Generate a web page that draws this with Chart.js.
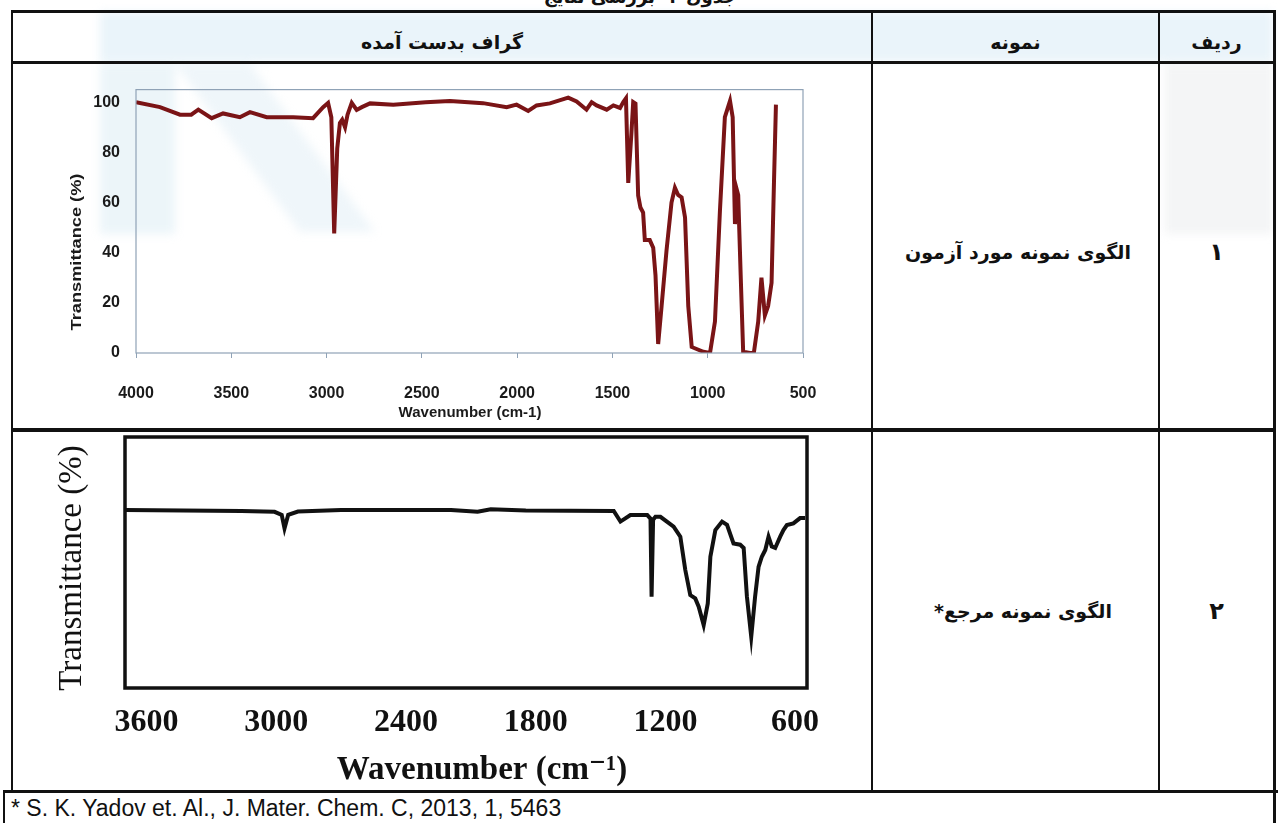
<!DOCTYPE html>
<html lang="fa">
<head>
<meta charset="utf-8">
<script src="https://cdn.jsdelivr.net/npm/chart.js@4.4.1/dist/chart.umd.min.js"></script>
<style>
  body { margin: 0; width: 1278px; height: 823px; overflow: hidden; background: #fff; position: relative; font-family: "DejaVu Sans", sans-serif; }
  .ln { position: absolute; background: #111; }
  .txt { position: absolute; text-align: center; font-weight: bold; color: #111; direction: rtl; white-space: nowrap; }
  canvas { position: absolute; }
  #wm { position: absolute; left: 0; top: 0; filter: blur(5px); }
  #foot { position: absolute; left: 11px; top: 793px; font: 23px "Liberation Sans", Arial, sans-serif; color: #111; line-height: 30px; }
</style>
</head>
<body>

<!-- واترمارک کم‌رنگ پس‌زمینه -->
<svg id="wm" width="1278" height="823">
  <rect x="100" y="12" width="1173" height="50" fill="rgba(190,222,240,0.32)"/>
  <rect x="100" y="64" width="75" height="170" fill="rgba(175,212,232,0.24)"/>
  <polygon points="175,64 250,64 375,232 300,232" fill="rgba(175,212,232,0.2)"/>
  <rect x="1165" y="64" width="108" height="170" fill="rgba(200,205,212,0.2)"/>
</svg>

<!-- جدول -->
<div class="txt" style="left:440px;width:400px;top:-15px;font-size:18px;line-height:24px;">جدول ۲- بررسی نتایج</div>
<div class="ln" style="left:11px;top:10px;width:1265px;height:3px;"></div>
<div class="ln" style="left:11px;top:61px;width:1265px;height:3px;"></div>
<div class="ln" style="left:11px;top:428px;width:1265px;height:4px;"></div>
<div class="ln" style="left:3px;top:790px;width:1275px;height:3px;"></div>
<div class="ln" style="left:11px;top:10px;width:2px;height:783px;"></div>
<div class="ln" style="left:3px;top:790px;width:2px;height:33px;"></div>
<div class="ln" style="left:871px;top:10px;width:2px;height:783px;"></div>
<div class="ln" style="left:1158px;top:10px;width:2px;height:783px;"></div>
<div class="ln" style="left:1273px;top:10px;width:3px;height:813px;"></div>

<div class="txt" style="left:13px;width:858px;top:29px;font-size:19px;line-height:26px;">گراف بدست آمده</div>
<div class="txt" style="left:873px;width:285px;top:29px;font-size:19px;line-height:26px;">نمونه</div>
<div class="txt" style="left:1160px;width:113px;top:29px;font-size:19px;line-height:26px;">ردیف</div>

<div class="txt" style="left:873px;width:290px;top:238px;font-size:19px;line-height:28px;">الگوی نمونه مورد آزمون</div>
<div class="txt" style="left:1160px;width:113px;top:236px;font-size:24px;line-height:32px;">۱</div>
<div class="txt" style="left:873px;width:300px;top:597px;font-size:19px;line-height:28px;">الگوی نمونه مرجع*</div>
<div class="txt" style="left:1160px;width:113px;top:595px;font-size:24px;line-height:32px;">۲</div>

<canvas id="ir-test" width="858" height="364" style="left:13px;top:64px;"></canvas>
<canvas id="ir-ref" width="858" height="359" style="left:13px;top:431px;"></canvas>

<div id="foot">* S. K. Yadov et. Al., J. Mater. Chem. C, 2013, 1, 5463</div>

<script>
// طیف نمونه مورد آزمون (عدد موج، عبور %)
const wnTest = [4000, 3874, 3769, 3710, 3673, 3603, 3543, 3455, 3402, 3314,
  3175, 3071, 3018, 2992, 2975, 2960, 2944, 2930, 2918, 2903,
  2890, 2868, 2842, 2815, 2772, 2650, 2480, 2353, 2179, 2055,
  2003, 1942, 1898, 1828, 1732, 1688, 1636, 1609, 1583, 1530,
  1495, 1460, 1443, 1429, 1417, 1400, 1391, 1379, 1365, 1353,
  1339, 1330, 1304, 1286, 1274, 1260, 1242, 1216, 1190, 1172,
  1155, 1137, 1119, 1102, 1084, 1023, 988, 962, 936, 910,
  883, 869, 857, 848, 840, 827, 814, 779, 758, 735,
  718, 700, 683, 665, 652, 642];
const tTest = [100, 98, 95, 95, 97, 93.6, 95.5, 94, 96, 94,
  94, 93.6, 98, 99.7, 94, 47.7, 81.6, 91.7, 93, 90,
  95, 99.7, 96.9, 98, 99.5, 99, 100, 100.5, 99.6, 98,
  99, 96.5, 98.7, 99.5, 101.8, 100.3, 97, 100, 98.7, 97,
  98.7, 97.7, 100, 101.5, 67.8, 88, 100, 99.4, 62.8, 58,
  56, 45, 45, 42, 31, 3.6, 18.7, 41, 60, 65.9,
  63, 62, 54, 18.7, 2.4, 0.5, 0, 12.5, 56.5, 94,
  100.5, 94, 51.4, 65.3, 63, 31, 0.5, 0, 0, 12.5,
  30, 15, 18.7, 28, 69, 99];
const xTicksTest = [4000, 3500, 3000, 2500, 2000, 1500, 1000, 500];
const yTicksTest = [0, 20, 40, 60, 80, 100];

// طیف نمونه مرجع
const wnRef = [3700, 3161, 3008, 2975, 2962, 2945, 2900, 2700,
  2192, 2069, 2008, 1846, 1439, 1408, 1362, 1284,
  1269, 1264, 1257, 1246, 1223, 1162, 1131, 1108, 1085, 1062,
  1046, 1023, 1004, 992, 969, 938, 915, 885, 854, 838,
  823, 803, 785, 769, 754, 738, 723, 708, 692, 669,
  654, 638, 608, 577, 554];
const tRef = [70.9, 70.5, 70.2, 69, 63.6, 69, 70.3, 70.9,
  70.9, 70.2, 71.2, 70.7, 70.5, 66.3, 68.9, 68.9,
  67.5, 36.4, 67, 68.2, 68.2, 64.3, 60.3, 47, 37, 35.7,
  32.4, 25.1, 33.7, 52.3, 62.9, 66.3, 65, 57.6, 57.1, 55.8,
  36.5, 20.4, 36.5, 48.3, 52.3, 55, 60.3, 56.4, 55.8, 60.3,
  62.9, 64.9, 65.6, 67.7, 67.7];
const xTicksRef = [3600, 3000, 2400, 1800, 1200, 600];

const points = (xs, ys) => xs.map((x, i) => ({ x: x, y: ys[i] }));

// قاب دور ناحیه رسم + عنوان محورها
const frame = {
  id: 'frame',
  afterDraw(chart, args, opts) {
    const { ctx, chartArea: a } = chart;
    ctx.save();
    ctx.strokeStyle = opts.color;
    ctx.lineWidth = opts.width;
    ctx.strokeRect(a.left, a.top, a.right - a.left, a.bottom - a.top);
    (opts.texts || []).forEach(t => {
      ctx.save();
      ctx.translate(t.x, t.y);
      ctx.rotate(t.rot || 0);
      ctx.scale(t.sx || 1, 1);
      ctx.font = t.font;
      ctx.fillStyle = t.color;
      ctx.textAlign = 'center';
      ctx.textBaseline = 'middle';
      ctx.fillText(t.text, 0, 0);
      ctx.restore();
    });
    ctx.restore();
  }
};

const sans = "'Liberation Sans', Arial, sans-serif";
const serif = "'Liberation Serif', 'DejaVu Serif', serif";
const plain = v => String(v);

new Chart(document.getElementById('ir-test'), {
  type: 'line',
  data: {
    datasets: [{
      data: points(wnTest, tTest),
      borderColor: '#7a1416',
      borderWidth: 4,
      pointRadius: 0,
      tension: 0
    }]
  },
  plugins: [frame],
  options: {
    responsive: false,
    animation: false,
    layout: { padding: { left: 0, top: 11, right: 68, bottom: 0 } },
    plugins: {
      legend: { display: false },
      tooltip: { enabled: false },
      frame: {
        color: '#8fa2b6',
        width: 1.2,
        texts: [
          { text: 'Transmittance (%)', x: 64, y: 188, rot: -Math.PI / 2, sx: 1.3, font: "bold 14px " + sans, color: '#1a1a1a' },
          { text: 'Wavenumber (cm-1)', x: 457, y: 349, font: "bold 15px " + sans, color: '#1a1a1a' }
        ]
      }
    },
    scales: {
      x: {
        type: 'linear',
        reverse: true,
        min: 500,
        max: 4000,
        afterBuildTicks: s => { s.ticks = xTicksTest.map(v => ({ value: v })); },
        afterFit: s => { s.height = 75; },
        grid: { drawOnChartArea: false, drawTicks: true, tickLength: 5, color: '#8fa2b6' },
        border: { display: false },
        ticks: { callback: plain, color: '#1a1a1a', font: { family: sans, size: 16, weight: 'bold' }, padding: 26, maxRotation: 0, autoSkip: false }
      },
      y: {
        min: 0,
        max: 105,
        afterBuildTicks: s => { s.ticks = yTicksTest.map(v => ({ value: v })); },
        afterFit: s => { s.width = 123; },
        grid: { display: false, drawTicks: false },
        border: { display: false },
        ticks: { callback: plain, color: '#1a1a1a', font: { family: sans, size: 16, weight: 'bold' }, padding: 16 }
      }
    }
  }
});

new Chart(document.getElementById('ir-ref'), {
  type: 'line',
  data: {
    datasets: [{
      data: points(wnRef, tRef),
      borderColor: '#111',
      borderWidth: 4,
      pointRadius: 0,
      tension: 0
    }]
  },
  plugins: [frame],
  options: {
    responsive: false,
    animation: false,
    layout: { padding: { left: 0, top: 6, right: 64, bottom: 0 } },
    plugins: {
      legend: { display: false },
      tooltip: { enabled: false },
      frame: {
        color: '#111',
        width: 3.5,
        texts: [
          { text: 'Transmittance (%)', x: 59, y: 137, rot: -Math.PI / 2, font: "33px " + serif, color: '#111' },
          { text: 'Wavenumber (cm⁻¹)', x: 469, y: 339, font: "bold 33px " + serif, color: '#111' }
        ]
      }
    },
    scales: {
      x: {
        type: 'linear',
        reverse: true,
        min: 545,
        max: 3700,
        afterBuildTicks: s => { s.ticks = xTicksRef.map(v => ({ value: v })); },
        afterFit: s => { s.height = 102; },
        grid: { drawOnChartArea: false, drawTicks: false },
        border: { display: false },
        ticks: { callback: plain, color: '#111', font: { family: serif, size: 32, weight: 'bold' }, padding: 16, maxRotation: 0, autoSkip: false }
      },
      y: {
        min: 0,
        max: 100,
        afterFit: s => { s.width = 112; },
        grid: { display: false, drawTicks: false },
        border: { display: false },
        ticks: { display: false }
      }
    }
  }
});
</script>
</body>
</html>
